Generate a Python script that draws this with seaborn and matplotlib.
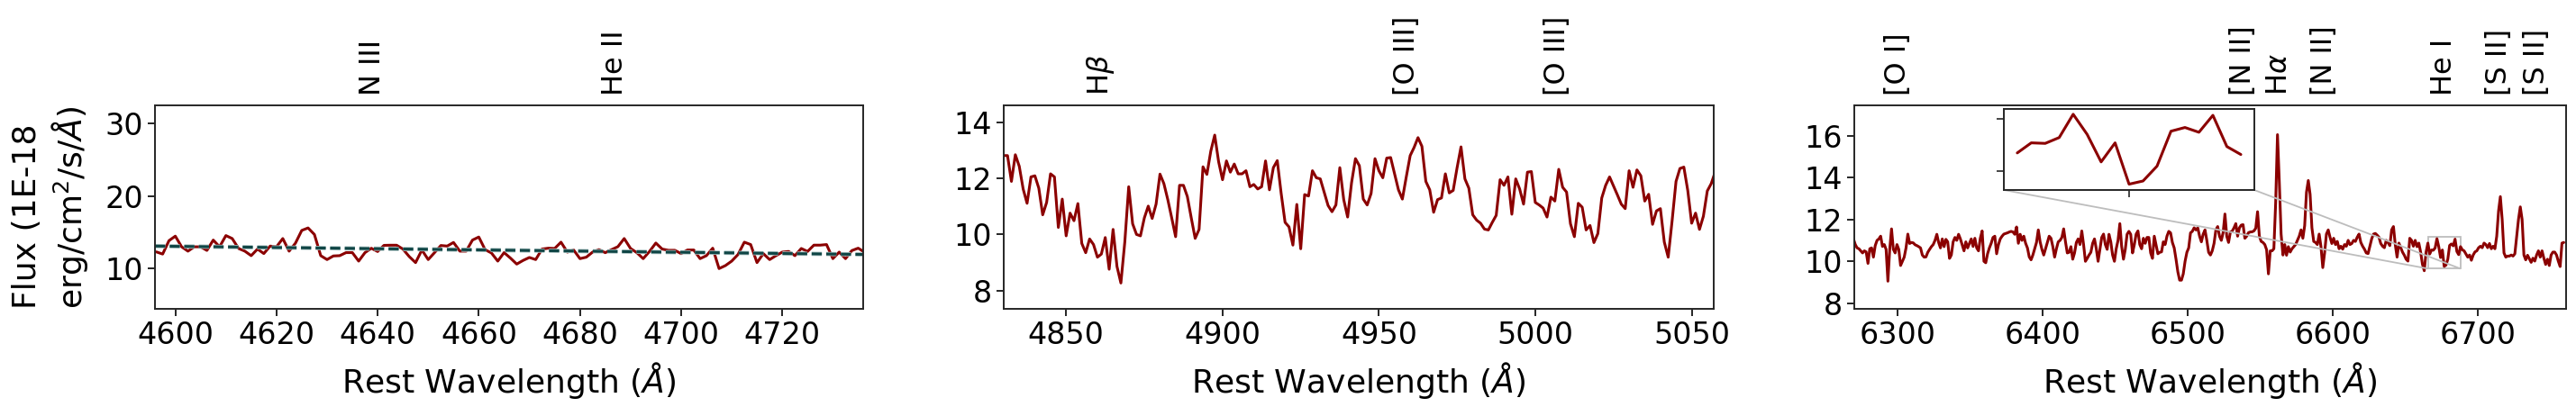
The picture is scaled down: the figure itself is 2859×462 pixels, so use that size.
import numpy as np
import matplotlib
matplotlib.use("Agg")
import matplotlib.pyplot as plt
import matplotlib.patheffects as pe
import seaborn as sns
from mpl_toolkits.axes_grid1.inset_locator import mark_inset

# spectrum segments, uniform 1.25 A sampling
step = 1.25
start_a = 4596.25
start_b = 4830.0
start_c = 6269.5

flux_a = [12.3, 12.0, 13.85, 14.47, 13.0, 12.4, 13.0, 13.0, 12.5, 13.93,
          13.0, 14.55, 14.14, 12.77, 12.4, 11.78, 12.69, 12.07, 13.1, 13.0,
          14.14, 12.4, 13.5, 15.26, 15.6, 14.7, 11.78, 11.24, 11.74, 11.78,
          12.2, 12.2, 11.03, 12.2, 12.8, 12.35, 13.2, 13.22, 13.22, 12.69,
          11.65, 10.82, 12.56, 11.24, 12.2, 13.18, 13.1, 13.6, 12.4, 12.4,
          13.93, 14.35, 12.6, 12.15, 11.03, 12.2, 11.45,
          10.62, 11.12, 11.53, 11.24, 12.69, 12.81, 12.77, 13.64, 12.27, 12.56,
          11.37, 11.57, 12.27, 12.61, 12.19, 12.61, 13.02, 14.14, 12.77, 12.19,
          11.37, 12.36, 13.52, 12.69, 12.52, 12.52, 12.06, 12.56, 12.56, 11.37,
          11.78, 12.81, 10.0, 10.41, 11.03, 11.94, 13.64, 13.31, 10.82, 12.06,
          11.24, 11.78, 12.27, 12.36, 11.78, 12.77, 12.36, 13.23, 13.23, 13.31,
          11.37, 12.27, 11.37, 12.48, 12.81, 12.27]

cont_wave = [4596.0, 4736.0]
cont_flux = [13.1, 11.95]

flux_b = [12.81, 12.81, 11.89, 12.84, 12.43, 11.62, 11.11, 12.05, 12.09, 11.65,
          10.70, 11.14, 12.16, 12.05, 10.25, 11.26, 9.95, 10.76, 10.49, 11.10,
          9.68, 9.35, 9.84, 9.64, 9.19, 9.30, 9.89, 8.76, 10.18, 8.86,
          8.27, 9.73, 11.70, 10.38, 10.0, 9.95, 10.59, 11.01, 10.57, 11.08,
          12.15, 11.81, 11.24, 10.59, 9.92, 11.75, 11.75, 11.35, 10.59, 9.86,
          10.18, 12.41, 12.14, 12.97, 13.54, 12.59, 11.95, 12.62, 12.22, 12.51,
          12.16, 12.16, 12.27, 11.70, 11.78, 11.62, 11.70, 12.62, 11.59, 12.38,
          12.63, 11.46, 10.43, 10.27, 9.62, 11.07, 9.49, 11.42, 11.37, 12.27,
          12.02, 11.98, 11.51, 11.03, 10.81, 11.05, 12.38, 11.24, 10.62, 11.84,
          12.70, 12.45,
          11.26, 11.05, 11.46, 12.70, 12.27, 12.02, 12.72, 12.74, 12.16, 11.59,
          11.26, 12.05, 12.81, 13.10, 13.45, 13.14, 11.89, 11.59, 10.79, 11.24,
          11.30, 12.16, 11.48, 11.57, 12.38, 13.12, 11.98, 11.65, 10.70, 10.51,
          10.40, 10.19, 10.16, 10.43, 10.68, 11.95, 11.75, 12.05, 10.72, 11.98,
          11.62, 11.08, 12.22, 12.24, 11.14, 11.05, 10.94, 10.62, 11.33, 11.19,
          12.32, 11.68, 11.51, 10.38, 9.92, 11.11, 10.97, 10.16, 10.32, 9.71,
          10.03, 11.30, 11.75, 12.05, 11.73, 11.41, 11.08, 10.92, 12.27, 11.68,
          12.30, 12.09, 11.19, 11.43, 10.36, 10.84, 10.92, 9.73, 9.19, 10.49,
          11.89, 12.35, 12.40, 11.57, 10.40, 10.76, 10.18, 10.65, 11.55, 11.81,
          12.22]

flux_c = [11.07, 10.8, 10.64, 10.6, 10.5, 10.4, 10.5, 10.45, 9.9, 10.6,
          10.64, 10.2, 10.75, 11.0, 11.07, 11.2, 10.71, 10.8, 10.57, 9.05,
          10.57, 11.55, 10.57, 10.4, 10.8, 10.57, 9.8, 10.0, 10.2, 10.64,
          11.3, 10.85, 10.9, 10.88, 10.79, 10.75, 10.7, 10.64, 10.3, 10.2,
          10.21, 10.43, 10.57, 10.7, 10.8, 11.0, 11.29, 10.9, 10.64, 11.07,
          10.7, 11.05, 10.93, 10.14, 10.3, 10.93, 11.14, 11.0, 11.29, 11.07,
          10.79, 10.5, 10.93, 10.64, 10.86, 11.07, 10.71, 11.1, 10.64, 10.5,
          11.1, 11.45, 10.0, 9.93, 10.36, 10.64, 10.86, 11.14, 11.2, 10.36,
          10.79, 11.07, 11.2, 11.3, 11.33, 11.36, 11.4, 11.43, 11.4, 11.29,
          11.64, 10.86, 11.29, 11.0, 11.2, 10.86, 10.64, 10.21, 10.07, 10.3,
          10.6, 10.9, 11.5, 10.93, 10.57, 10.3, 10.6, 10.9, 11.2, 11.1,
          10.71, 10.2, 10.6, 10.93, 11.0, 11.14, 11.55, 10.93, 10.4, 10.43,
          10.7, 10.1, 10.4, 10.9, 11.07, 10.8, 11.45, 10.79, 10.0, 10.14,
          10.3, 10.43, 10.86, 11.07, 10.6, 10.0, 10.57, 11.14, 11.3, 10.8,
          10.57, 11.29, 10.93, 10.3, 10.0, 10.6, 11.0, 11.8, 10.71, 10.1,
          10.57, 11.29, 11.43, 11.29, 10.4, 10.8, 11.3, 11.45, 10.8, 10.6,
          11.1, 10.86, 11.14, 11.14, 10.4, 10.14, 11.2, 10.79, 10.36, 10.43,
          10.45, 10.93, 10.8, 11.2, 11.43, 11.36, 10.9, 10.64, 10.1, 9.5,
          9.1, 9.1, 9.4, 10.0, 10.43, 10.64, 11.36, 11.43, 11.6, 11.5,
          11.6, 11.2, 10.93, 11.3, 11.5, 11.0, 10.43, 10.3, 10.5, 10.86,
          11.5, 11.66, 11.2, 11.0, 11.37, 12.26, 11.2, 10.9, 11.4, 11.44,
          11.6, 11.8, 11.2, 11.6, 11.73, 11.75, 11.1, 11.2, 11.37, 11.4,
          11.41, 11.45, 11.58, 12.37, 11.2, 10.95, 10.9, 10.8, 10.55, 9.4,
          10.5, 10.5, 10.6, 12.8, 16.05, 13.8, 11.3, 10.3, 10.8, 10.29,
          10.7, 10.44, 10.6, 10.7, 10.8, 11.0, 11.2, 11.5, 11.1, 11.7,
          13.3, 13.86, 13.2, 11.6, 10.95, 10.9, 10.8, 11.3, 10.7, 9.7,
          10.4, 11.3, 11.5, 11.15, 10.85, 11.1, 10.8, 10.95, 10.6, 10.72,
          10.58, 10.8, 10.72, 11.0, 10.8, 10.85, 11.0, 10.95, 11.15, 11.3,
          10.9, 10.72, 10.58, 10.4, 10.37, 10.72, 11.08, 11.3, 11.33, 11.25,
          11.15, 10.85, 10.72, 10.65, 11.0, 10.9, 10.75, 11.5, 11.66, 10.8,
          10.2, 10.87, 10.65, 10.44, 10.29, 10.1, 10.01, 11.1, 11.0, 10.72,
          11.0, 10.7, 10.87, 10.44, 9.86, 9.55, 10.44, 10.87,
          10.35, 10.54, 10.53, 10.64, 11.08, 10.70, 10.18, 10.54, 9.76, 9.82,
          10.10, 10.76, 10.83, 10.74, 11.06, 10.47, 10.32,
          10.7, 10.55, 10.5, 10.35, 10.2, 10.3, 10.05, 10.3, 10.45, 10.5,
          10.65, 10.72, 10.65, 10.87, 10.8, 10.65, 10.85, 10.6, 10.72, 10.6,
          11.2, 12.4, 13.09, 12.0, 10.4, 10.2, 10.25, 10.25, 10.3, 10.25,
          10.36, 11.16, 12.0, 12.6, 12.0, 10.3, 10.07, 10.29, 10.12, 9.95,
          10.15, 10.01, 10.3, 10.5, 10.2, 10.5, 10.15, 9.85, 10.1, 9.8,
          10.3, 10.44, 10.44, 10.3, 10.0, 9.75, 10.87, 10.9]

# which points of the last segment go into the inset
inset_first = 318
inset_last = 334

# emission line labels and where they sit
names_a = ["N III", "He II"]
pos_a = [4639, 4687]
names_b = [r"H$\beta$", "[O III]", "[O III]"]
pos_b = [4861, 4959, 5007]
names_c = ["[O I]", "[N II]", r"H$\alpha$", "[N II]", "He I", "[S II]", "[S II]"]
pos_c = [6300, 6538, 6563, 6594, 6677, 6715, 6741]

wave_a = start_a + step * np.arange(len(flux_a))
wave_b = start_b + step * np.arange(len(flux_b))
wave_c = start_c + step * np.arange(len(flux_c))

sns.set_style("ticks")
plt.rcParams["font.family"] = ["DejaVu Sans"]
plt.rcParams["mathtext.fontset"] = "dejavusans"
plt.rcParams["text.color"] = "black"
plt.rcParams["axes.labelcolor"] = "black"
plt.rcParams["axes.edgecolor"] = "#262626"
plt.rcParams["axes.linewidth"] = 1.4
plt.rcParams["xtick.major.size"] = 6
plt.rcParams["ytick.major.size"] = 6
plt.rcParams["xtick.major.width"] = 1.2
plt.rcParams["ytick.major.width"] = 1.2

red = "#8b0000"
fig = plt.figure(figsize=(28.59, 4.62), dpi=100)
ax1 = fig.add_axes([0.0602, 0.2576, 0.2749, 0.4892])
ax2 = fig.add_axes([0.3896, 0.2576, 0.2756, 0.4892])
ax3 = fig.add_axes([0.7198, 0.2576, 0.2763, 0.4892])

panels = [
    (ax1, wave_a, flux_a, (4596, 4736), (4.45, 32.5), [4600, 4620, 4640, 4660, 4680, 4700, 4720], [10, 20, 30], names_a, pos_a),
    (ax2, wave_b, flux_b, (4830, 5057), (7.35, 14.6), [4850, 4900, 4950, 5000, 5050], [8, 10, 12, 14], names_b, pos_b),
    (ax3, wave_c, flux_c, (6270, 6761), (7.73, 17.45), [6300, 6400, 6500, 6600, 6700], [8, 10, 12, 14, 16], names_c, pos_c),
]

for ax, w, f, xl, yl, xt, yt, names, pos in panels:
    sns.lineplot(x=w, y=f, ax=ax, color=red, lw=2.2, estimator=None, sort=False)
    ax.set_xlim(xl)
    ax.set_ylim(yl)
    ax.set_xticks(xt)
    ax.set_yticks(yt)
    ax.tick_params(labelsize=24, colors="black")
    ax.set_xlabel(r"Rest Wavelength ($\AA$)", fontsize=26, labelpad=8)
    for nm, p in zip(names, pos):
        ax.text(p, 1.05, nm, transform=ax.get_xaxis_transform(), rotation=90,
                ha="center", va="bottom", fontsize=23)

ax1.plot(cont_wave, cont_flux, ls="--", color="#0f4545", lw=2.2,
         path_effects=[pe.Stroke(linewidth=3.4, foreground="#a8c0c0"), pe.Normal()])
ax1.set_ylabel("Flux (1E-18\nerg/cm$^2$/s/$\\AA$)", fontsize=26, multialignment="left", labelpad=12)

# zoom on the He I region
axins = fig.add_axes([0.7779, 0.5433, 0.0972, 0.1948])
sns.lineplot(x=wave_c[inset_first:inset_last + 1], y=flux_c[inset_first:inset_last + 1],
             ax=axins, color=red, lw=2.2, estimator=None, sort=False)
axins.set_xlim(6665.8, 6688.2)
axins.set_ylim(9.65, 11.18)
axins.set_xticks([6677])
axins.set_yticks([10, 11])
axins.set_xticklabels([])
axins.set_yticklabels([])
axins.set_xlabel("")
axins.set_ylabel("")
mark_inset(ax3, axins, loc1=3, loc2=4, fc="none", ec="#bdbdbd", lw=1.3)

fig.savefig("out.png", dpi=100)
